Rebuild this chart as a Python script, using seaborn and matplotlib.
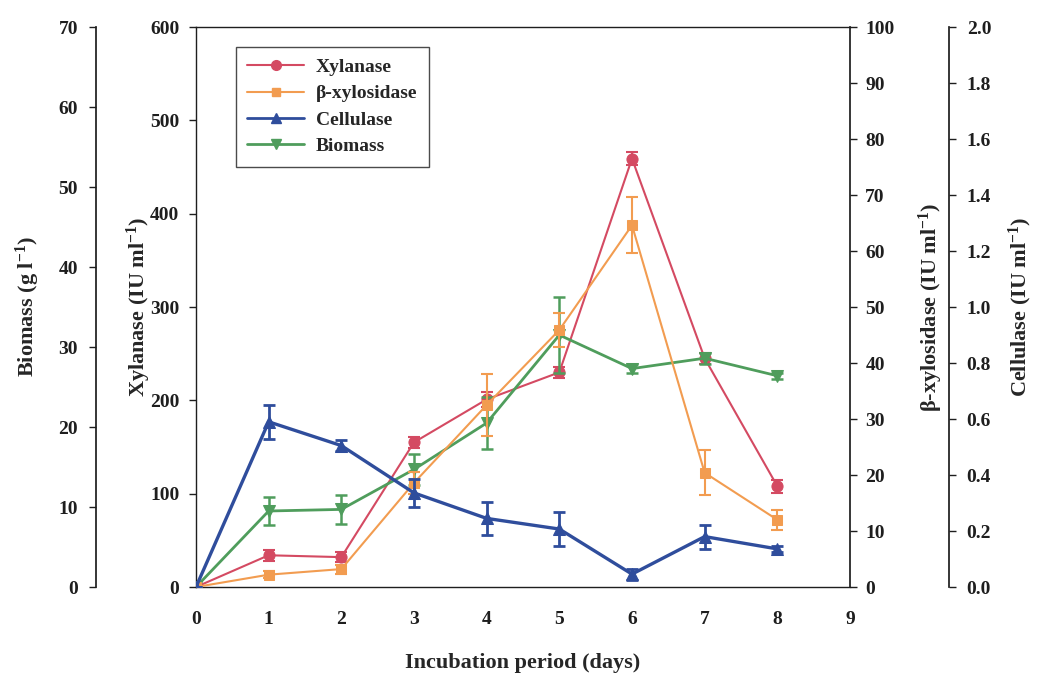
import numpy as np
import pandas as pd
import matplotlib
matplotlib.use("Agg")
import matplotlib.pyplot as plt
import seaborn as sns
from matplotlib.lines import Line2D

days = [0, 1, 2, 3, 4, 5, 6, 7, 8]
xylanase = [0, 34, 32, 155, 201, 230, 459, 245, 108]
xylanase_err = [0, 6, 5, 6, 8, 6, 7, 6, 7]
bxyl = [0, 2.2, 3.2, 18.6, 32.5, 45.9, 64.6, 20.4, 12.0]
bxyl_err = [0, 0.6, 0.8, 2.0, 5.5, 3.0, 5.0, 4.0, 1.8]
cellulase = [0, 0.59, 0.505, 0.336, 0.245, 0.207, 0.046, 0.18, 0.136]
cellulase_err = [0, 0.06, 0.02, 0.05, 0.06, 0.06, 0.02, 0.043, 0.01]
biomass = [0, 9.5, 9.7, 14.7, 20.5, 31.5, 27.3, 28.6, 26.4]
biomass_err = [0, 1.8, 1.8, 1.9, 3.2, 4.7, 0.6, 0.7, 0.4]

xticks = list(range(0, 10))
xyl_ticks = [0, 100, 200, 300, 400, 500, 600]
bio_ticks = [0, 10, 20, 30, 40, 50, 60, 70]
bx_ticks = [0, 10, 20, 30, 40, 50, 60, 70, 80, 90, 100]
cel_ticks = [0.0, 0.2, 0.4, 0.6, 0.8, 1.0, 1.2, 1.4, 1.6, 1.8, 2.0]

c_red = "#d44a62"
c_orange = "#f29c50"
c_blue = "#2f4d9c"
c_green = "#4f9d5c"

sns.set_theme(style="white")
plt.rcParams["font.family"] = ["Liberation Serif", "DejaVu Serif"]
plt.rcParams["font.weight"] = "bold"
plt.rcParams["axes.labelweight"] = "bold"
plt.rcParams["mathtext.fontset"] = "custom"
plt.rcParams["mathtext.rm"] = "Liberation Serif:bold"
plt.rcParams["mathtext.bf"] = "Liberation Serif:bold"
plt.rcParams["mathtext.default"] = "bf"

fig = plt.figure(figsize=(10.38, 6.75), dpi=100)
ax = fig.add_axes([196 / 1038, 1 - 587 / 675, (850 - 196) / 1038, (587 - 27) / 675])
ax_bio = ax.twinx()
ax_bx = ax.twinx()
ax_cel = ax.twinx()

df = pd.DataFrame({"day": days, "xyl": xylanase, "bx": bxyl, "cel": cellulase, "bio": biomass})

tick_fs = 14
lab_fs = 16
ink = "#1e1e1e"

# Biomass (outer left)
sns.lineplot(data=df, x="day", y="bio", ax=ax_bio, color=c_green, lw=2.0, marker="v",
             markersize=8, markeredgecolor=c_green, zorder=3)
ax_bio.errorbar(days, biomass, yerr=biomass_err, fmt="none", ecolor=c_green, elinewidth=1.8,
                capsize=4, capthick=1.8, zorder=3)
# Xylanase (main)
sns.lineplot(data=df, x="day", y="xyl", ax=ax, color=c_red, lw=1.5, marker="o",
             markersize=8, markeredgecolor=c_red, zorder=3)
ax.errorbar(days, xylanase, yerr=xylanase_err, fmt="none", ecolor=c_red, elinewidth=1.5,
            capsize=4, capthick=1.5, zorder=3)
# beta-xylosidase
sns.lineplot(data=df, x="day", y="bx", ax=ax_bx, color=c_orange, lw=1.5, marker="s",
             markersize=7, markeredgecolor=c_orange, zorder=3)
ax_bx.errorbar(days, bxyl, yerr=bxyl_err, fmt="none", ecolor=c_orange, elinewidth=1.5,
               capsize=4, capthick=1.5, zorder=3)
# Cellulase
sns.lineplot(data=df, x="day", y="cel", ax=ax_cel, color=c_blue, lw=2.4, marker="^",
             markersize=8, markeredgecolor=c_blue, zorder=3)
ax_cel.errorbar(days, cellulase, yerr=cellulase_err, fmt="none", ecolor=c_blue, elinewidth=2.0,
                capsize=4, capthick=2.0, zorder=3)

# Main axis
ax.set_xlim(0, 9)
ax.set_ylim(0, 600)
ax.set_xticks(xticks)
ax.set_yticks(xyl_ticks)
ax.set_xlabel("Incubation period (days)", fontsize=lab_fs, fontweight="bold", labelpad=18)
ax.set_ylabel("Xylanase (IU ml$^{-1}$)", fontsize=lab_fs, fontweight="bold", labelpad=-2)
for s in ["left", "bottom", "top"]:
    ax.spines[s].set_visible(True)
    ax.spines[s].set_color(ink)
    ax.spines[s].set_linewidth(1.0)
ax.spines["right"].set_visible(False)
ax.tick_params(axis="both", direction="out", length=5, width=1, labelsize=tick_fs, colors=ink, pad=7)
ax.tick_params(axis="x", pad=12)

# Biomass axis
ax_bio.set_ylim(0, 70)
ax_bio.set_yticks(bio_ticks)
ax_bio.yaxis.set_ticks_position("left")
ax_bio.yaxis.set_label_position("left")
for s in ["right", "top", "bottom"]:
    ax_bio.spines[s].set_visible(False)
ax_bio.spines["left"].set_visible(True)
ax_bio.spines["left"].set_position(("outward", 72))
ax_bio.spines["left"].set_color(ink)
ax_bio.set_ylabel("Biomass (g l$^{-1}$)", fontsize=lab_fs, fontweight="bold", labelpad=12)
ax_bio.tick_params(axis="y", direction="out", length=5, width=1, labelsize=tick_fs, colors=ink, pad=8)

# beta-xylosidase axis
ax_bx.set_ylim(0, 100)
ax_bx.set_yticks(bx_ticks)
for s in ["left", "top", "bottom"]:
    ax_bx.spines[s].set_visible(False)
ax_bx.spines["right"].set_visible(True)
ax_bx.spines["right"].set_color(ink)
ax_bx.set_ylabel("β-xylosidase (IU ml$^{-1}$)", fontsize=lab_fs, fontweight="bold", labelpad=16)
ax_bx.tick_params(axis="y", direction="out", length=5, width=1, labelsize=tick_fs, colors=ink, pad=6)

# Cellulase axis
ax_cel.set_ylim(0, 2.0)
ax_cel.set_yticks(cel_ticks)
ax_cel.set_yticklabels([f"{v:.1f}" for v in cel_ticks])
for s in ["left", "top", "bottom"]:
    ax_cel.spines[s].set_visible(False)
ax_cel.spines["right"].set_visible(True)
ax_cel.spines["right"].set_position(("outward", 71))
ax_cel.spines["right"].set_color(ink)
ax_cel.set_ylabel("Cellulase (IU ml$^{-1}$)", fontsize=lab_fs, fontweight="bold", labelpad=11)
ax_cel.tick_params(axis="y", direction="out", length=5, width=1, labelsize=tick_fs, colors=ink, pad=8)

for a in [ax, ax_bio, ax_bx, ax_cel]:
    a.set_xlim(0, 9)
    a.grid(False)
    a.patch.set_visible(False)
    for lbl in a.get_xticklabels() + a.get_yticklabels():
        lbl.set_fontweight("bold")

handles = [
    Line2D([], [], color=c_red, lw=1.5, marker="o", markersize=7),
    Line2D([], [], color=c_orange, lw=1.5, marker="s", markersize=6),
    Line2D([], [], color=c_blue, lw=2.0, marker="^", markersize=7),
    Line2D([], [], color=c_green, lw=2.0, marker="v", markersize=7),
]
leg = ax_cel.legend(handles, ["Xylanase", "β-xylosidase", "Cellulase", "Biomass"],
                    loc="upper left", bbox_to_anchor=(0.046, 0.982), frameon=True, fancybox=False,
                    edgecolor=ink, handlelength=2.9, borderpad=0.6, handletextpad=0.6,
                    labelspacing=0.45, prop={"weight": "bold", "size": 14})
leg.get_frame().set_linewidth(1.0)

fig.savefig("out.png", dpi=100)
